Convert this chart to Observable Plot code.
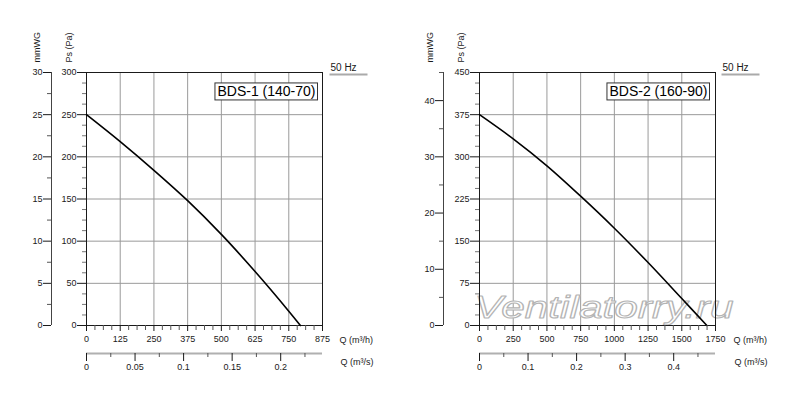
<!DOCTYPE html>
<html><head><meta charset="utf-8">
<script src="https://cdn.jsdelivr.net/npm/d3@7"></script>
<script src="https://cdn.jsdelivr.net/npm/@observablehq/plot@0.6"></script>
<style>
body{margin:0;background:#fff;}
#wrap{display:flex;width:800px;height:414px;overflow:hidden;}
#wrap svg{flex:0 0 400px;}
</style></head><body><div id="wrap"></div>
<script>
// ---- BDS-1 (140-70) ----
const title1 = "BDS-1 (140-70)";
const flow1 = [0, 125, 250, 375, 500, 625, 750, 793];          // m³/h
const press1 = [250, 218, 184, 148, 108, 64, 17, 0];            // Pa
const xMajor1 = [0, 125, 250, 375, 500, 625, 750, 875];
const xMinorStep1 = 31.25;
const psMajor1 = [0, 50, 100, 150, 200, 250, 300];
const psMinorStep1 = 12.5;
const mmMajor1 = [0, 5, 10, 15, 20, 25, 30];
const mmMinor1 = [2.5, 7.5, 12.5, 17.5, 22.5, 27.5];
const qsMajor1 = [0, 0.05, 0.1, 0.15, 0.2];
const qsMinor1 = [0.025, 0.075, 0.125, 0.175, 0.225];

// ---- BDS-2 (160-90) ----
const title2 = "BDS-2 (160-90)";
const flow2 = [0, 250, 500, 750, 1000, 1250, 1500, 1686];
const press2 = [375, 332, 284, 230, 173, 112, 48, 0];
const xMajor2 = [0, 250, 500, 750, 1000, 1250, 1500, 1750];
const xMinorStep2 = 62.5;
const psMajor2 = [0, 75, 150, 225, 300, 375, 450];
const psMinorStep2 = 18.75;
const mmMajor2 = [0, 10, 20, 30, 40];
const mmMinor2 = [5, 15, 25, 35, 45];
const qsMajor2 = [0, 0.1, 0.2, 0.3, 0.4];
const qsMinor2 = [0.05, 0.15, 0.25, 0.35, 0.45];

const freqLabel = "50 Hz";
const watermark = "Ventilatorry.ru";

const font = "'Liberation Sans', Arial, Helvetica, sans-serif";
const ink = "#1a1a1a";

function minors(major, step) {
  const out = [];
  const max = major[major.length - 1];
  for (let v = step; v < max - 1e-9; v += step) {
    if (!major.some(m => Math.abs(m - v) < 1e-9)) out.push(v);
  }
  return out;
}

function build(c) {
  const data = c.flow.map((q, i) => ({q, p: c.press[i]}));
  const xMax = c.xMajor[c.xMajor.length - 1];
  const yMax = c.psMajor[c.psMajor.length - 1];
  const fmtS = d => String(+(d / 3600).toFixed(3));
  const marks = [
    Plot.gridX(c.xMajor.slice(1, -1), {stroke: "#9a9a9a", strokeOpacity: 1}),
    Plot.gridY(c.psMajor.slice(1, -1), {stroke: "#9a9a9a", strokeOpacity: 1}),
  ];
  if (c.watermark) {
    marks.push(Plot.text([c.watermark], {
      frameAnchor: "bottom-left", dx: -5, dy: -8, textAnchor: "start", lineAnchor: "bottom",
      fontSize: 32, fontStyle: "italic", fill: "white", stroke: "#b4b4b4", strokeWidth: 1.1,
      paintOrder: "normal"
    }));
  }
  marks.push(
    Plot.frame({stroke: ink}),
    Plot.line(data, {x: "q", y: "p", curve: "catmull-rom", stroke: "#000", strokeWidth: 1.6}),
    // Ps axis
    Plot.axisY(minors(c.psMajor, c.psStep), {anchor: "left", tickSize: 4, fill: "none", stroke: "#777", label: null}),
    Plot.axisY(c.psMajor, {anchor: "left", tickSize: 9, tickPadding: 1, label: null, tickFormat: d => String(d)}),
    // mmWG axis
    Plot.ruleX([0], {dx: c.mmDx, stroke: "#444"}),
    Plot.axisY(c.mmMinor.map(v => v * 10), {anchor: "left", dx: c.mmDx, tickSize: 4, fill: "none", stroke: "#555", label: null}),
    Plot.axisY(c.mmMajor.map(v => v * 10), {anchor: "left", dx: c.mmDx, tickSize: 8, tickPadding: 1, label: null, tickFormat: d => String(d / 10)}),
    // Q m³/h axis
    Plot.axisX(minors(c.xMajor, c.xStep), {anchor: "bottom", tickSize: 5, fill: "none", stroke: "#555", label: null}),
    Plot.axisX(c.xMajor, {anchor: "bottom", tickSize: 6, tickPadding: 4, label: null, tickFormat: d => String(d)}),
    // Q m³/s axis
    Plot.ruleY([0], {dy: 28, stroke: "#b0b0b0", strokeWidth: 2}),
    Plot.axisX(c.qsMinor.map(v => v * 3600), {anchor: "bottom", dy: 28, tickSize: 4, fill: "none", stroke: "#555", label: null}),
    Plot.axisX(c.qsMajor.map(v => v * 3600), {anchor: "bottom", dy: 28, tickSize: 8, tickPadding: 2, label: null, tickFormat: fmtS}),
    // texts
    Plot.text(["mmWG"], {frameAnchor: "top-left", dx: c.mmLabelDx, dy: -10, rotate: -90, textAnchor: "start", lineAnchor: "middle", fontSize: 9, fill: ink}),
    Plot.text(["Ps (Pa)"], {frameAnchor: "top-left", dx: c.psLabelDx, dy: -10, rotate: -90, textAnchor: "start", lineAnchor: "middle", fontSize: 9, fill: ink}),
    Plot.text(["Q (m³/h)"], {frameAnchor: "bottom-right", dx: c.qLabelDx, dy: 15, textAnchor: "start", lineAnchor: "middle", fontSize: 9, fill: ink}),
    Plot.text(["Q (m³/s)"], {frameAnchor: "bottom-right", dx: c.qLabelDx + 1, dy: 37, textAnchor: "start", lineAnchor: "middle", fontSize: 9, fill: ink}),
    Plot.text([c.freq], {frameAnchor: "top-right", dx: c.freqDx, dy: -2, textAnchor: "start", lineAnchor: "bottom", fontSize: 10, fill: ink}),
    Plot.text([c.title], {frameAnchor: "top-right", dx: c.titleDx, dy: 14, textAnchor: "end", lineAnchor: "top", fontSize: 14, fill: "#000"})
  );
  const svg = Plot.plot({
    width: 400, height: 414,
    marginLeft: c.ml, marginRight: c.mr, marginTop: 72, marginBottom: 89,
    style: {fontFamily: font, fontSize: "9px", color: ink, background: "white", overflow: "visible"},
    x: {domain: [0, xMax], axis: null},
    y: {domain: [0, yMax], axis: null},
    marks
  });
  document.getElementById("wrap").appendChild(svg);
  const s = d3.select(svg);
  s.selectAll("text").each(function () {
    const t = this.textContent;
    const tr = this.getAttribute("transform");
    if (t === c.title) {
      const b = this.getBBox();
      d3.select(this.parentNode).insert("rect", () => this)
        .attr("transform", tr)
        .attr("x", b.x - 2.5).attr("y", b.y - 0.5).attr("width", b.width + 4.5).attr("height", b.height + 1)
        .attr("fill", "white").attr("stroke", "#333").attr("stroke-width", 1);
    } else if (t === c.freq) {
      const b = this.getBBox();
      d3.select(this.parentNode).append("line")
        .attr("transform", tr)
        .attr("x1", b.x - 1).attr("x2", b.x + 37).attr("y1", b.y + b.height + 2).attr("y2", b.y + b.height + 2)
        .attr("stroke", "#aaa").attr("stroke-width", 2);
    } else if (c.watermark && t === c.watermark) {
      d3.select(this).attr("textLength", 259).attr("lengthAdjust", "spacingAndGlyphs");
    }
  });
}

build({title: title1, flow: flow1, press: press1, xMajor: xMajor1, xStep: xMinorStep1,
  psMajor: psMajor1, psStep: psMinorStep1, mmMajor: mmMajor1, mmMinor: mmMinor1,
  qsMajor: qsMajor1, qsMinor: qsMinor1, freq: freqLabel,
  ml: 86, mr: 78, mmDx: -35, mmLabelDx: -49, psLabelDx: -17, qLabelDx: 17, freqDx: 8, titleDx: -7});
build({title: title2, flow: flow2, press: press2, xMajor: xMajor2, xStep: xMinorStep2,
  psMajor: psMajor2, psStep: psMinorStep2, mmMajor: mmMajor2, mmMinor: mmMinor2,
  qsMajor: qsMajor2, qsMinor: qsMinor2, freq: freqLabel, watermark,
  ml: 79, mr: 85, mmDx: -36, mmLabelDx: -49, psLabelDx: -18, qLabelDx: 18, freqDx: 7, titleDx: -8});
</script></body></html>
